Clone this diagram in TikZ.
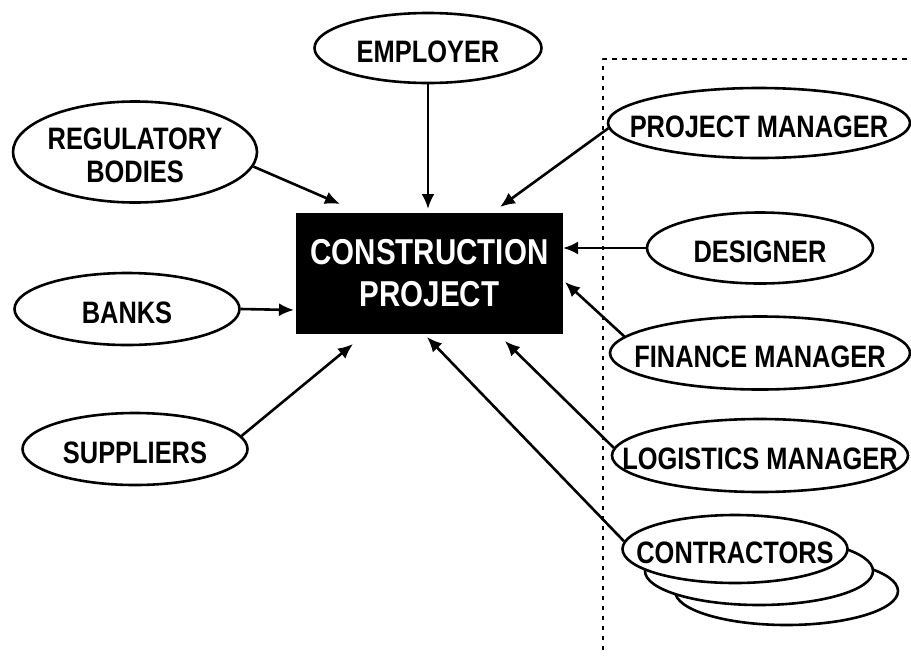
\documentclass[tikz,border=0pt]{standalone}
\usepackage{fontspec}
\setmainfont{Liberation Sans}[FakeStretch=0.82]
\usetikzlibrary{arrows.meta,shapes.geometric}
\newlength{\lw}
\setlength{\lw}{2.6pt}
\tikzstyle{every picture}+=[>={Latex[length=15pt,width=13pt]}]
\tikzstyle{every picture}+=[line width=\lw]
\tikzstyle{every picture}+=[join=round]
\tikzstyle{role}=[draw,fill=white,ellipse,inner sep=0pt,text height=30pt,text depth=2.5pt,font=\fontsize{31}{33}\selectfont\bfseries]
\tikzstyle{project}=[fill=black,text=white,inner sep=0pt,align=center,font=\fontsize{36}{42}\selectfont\bfseries]
\tikzstyle{boundary}=[line width=2.7pt,dash pattern=on 4.5pt off 5.5pt]
\newcommand{\rolename}[1]{\makebox[0pt]{\begin{tabular}{@{}c@{}}#1\end{tabular}}}
\begin{document}
\begin{tikzpicture}[x=1pt,y=-1pt]
\useasboundingbox (0,0) rectangle (911,657);

\draw[boundary] (603,650) -- (603,59) -- (911,59);

\node[project,minimum width=267pt,minimum height=121pt] (cp) at (429.5,273.5) {CONSTRUCTION\\PROJECT};

\node[role,minimum width=227pt,minimum height=70pt] (employer) at (428,48) {\rolename{EMPLOYER}};
\node[role,minimum width=244pt,minimum height=101pt] (regulatory) at (135,152) {\rolename{REGULATORY\\BODIES}};
\node[role,minimum width=225pt,minimum height=72pt] (banks) at (127,309) {\rolename{BANKS}};
\node[role,minimum width=225pt,minimum height=72pt] (suppliers) at (135,449) {\rolename{SUPPLIERS}};

\node[role,minimum width=302pt,minimum height=70pt] (pm) at (759,123) {\rolename{PROJECT MANAGER}};
\node[role,minimum width=226pt,minimum height=71pt] (designer) at (760,248) {\rolename{DESIGNER}};
\node[role,minimum width=300pt,minimum height=73pt] (finance) at (760,353) {\rolename{FINANCE MANAGER}};
\node[role,minimum width=296pt,minimum height=73pt] (logistics) at (760,455.5) {\rolename{LOGISTICS MANAGER}};

\node[role,minimum width=223pt,minimum height=68pt] (contractors3) at (786.5,591) {};
\node[role,minimum width=228pt,minimum height=68pt] (contractors2) at (759,571) {};
\node[role,minimum width=225pt,minimum height=68pt] (contractors) at (735,549) {\rolename{CONTRACTORS}};

\coordinate (in-employer) at (428,209);
\coordinate (in-regulatory) at (340,204);
\coordinate (in-banks) at (294,310);
\coordinate (in-suppliers) at (353,344);
\coordinate (in-pm) at (500,207);
\coordinate (in-designer) at (563,248);
\coordinate (in-finance) at (565,282);
\coordinate (in-logistics) at (505,341);
\coordinate (in-contractors) at (427,337);

\draw[->] (employer.south) -- (in-employer);
\draw[->] (regulatory.-7) -- (in-regulatory);
\draw[->] (banks.east) -- (in-banks);
\draw[->] (suppliers.7) -- (in-suppliers);
\draw[->] (pm.182) -- (in-pm);
\draw[->] (designer.west) -- (in-designer);
\draw[->] (finance.173) -- (in-finance);
\draw[->] (logistics.177) -- (in-logistics);
\draw[->] (contractors.176) -- (in-contractors);
\end{tikzpicture}
\end{document}
